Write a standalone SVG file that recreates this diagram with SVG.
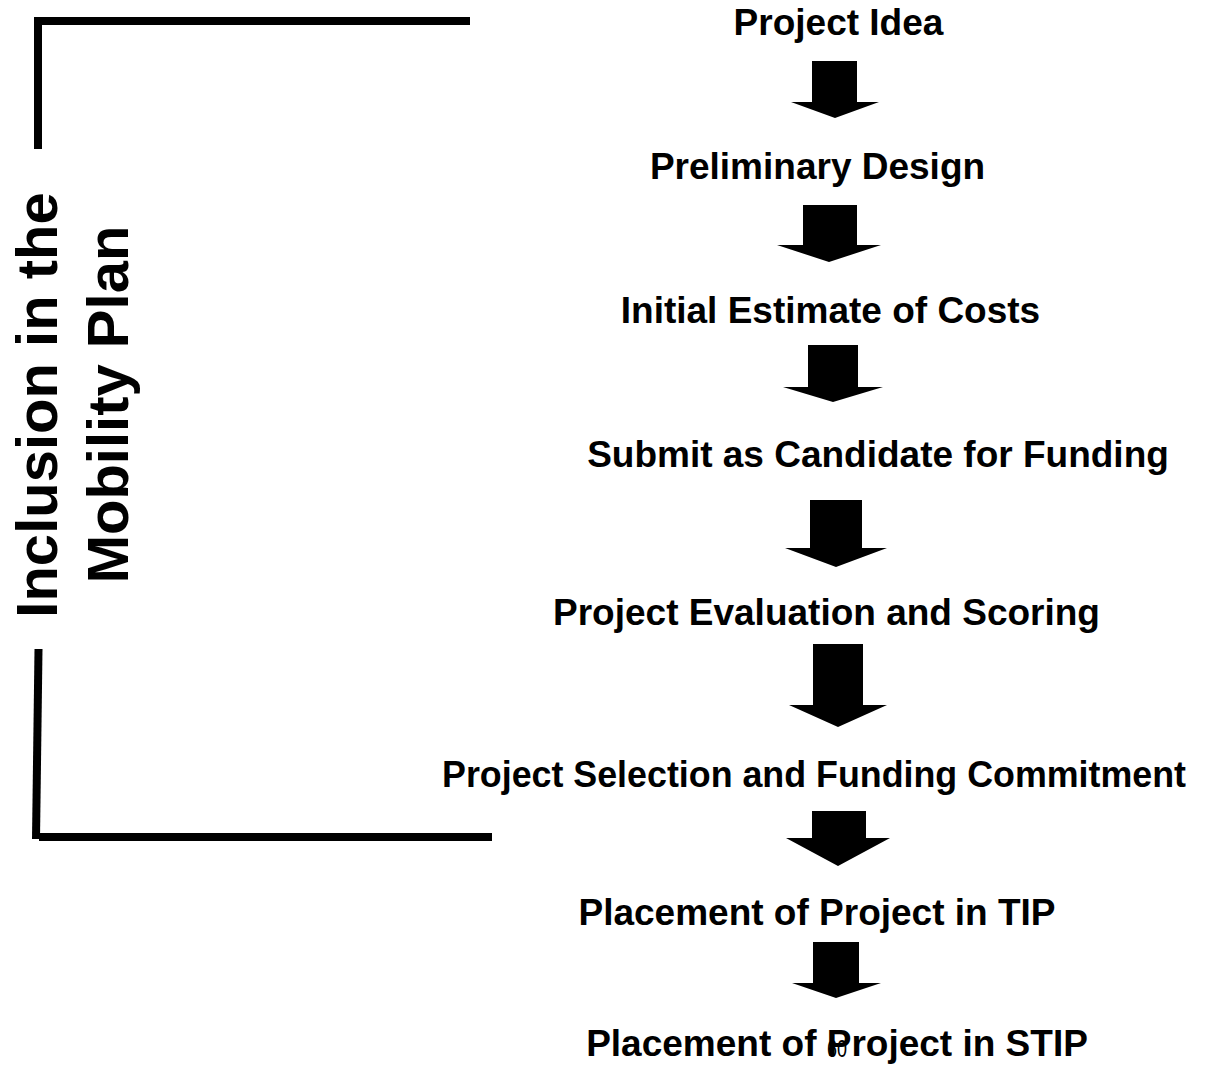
<svg xmlns="http://www.w3.org/2000/svg" width="1221" height="1065" viewBox="0 0 1221 1065">
<style>
.step{font-family:"Liberation Sans",Arial,sans-serif;font-weight:bold;font-size:37px;fill:#000;text-anchor:middle}
.side{font-family:"Liberation Sans",Arial,sans-serif;font-weight:bold;font-size:58px;fill:#000;text-anchor:middle}
.pg{font-family:"Liberation Sans",Arial,sans-serif;font-size:24px;fill:#000}
.br{stroke:#000;stroke-width:8;fill:none;stroke-linecap:butt}
.arr{fill:#000}
</style>
<rect width="1221" height="1065" fill="#fff"/>
<g id="bracket">
<line class="br" x1="38" y1="21" x2="470" y2="21"/>
<line class="br" x1="38" y1="17" x2="38" y2="149"/>
<line class="br" x1="38.5" y1="649" x2="36" y2="839"/>
<line class="br" x1="39" y1="837" x2="492" y2="837"/>
</g>
<g id="side-label">
<text class="side" transform="translate(57,405) rotate(-90)">Inclusion in the</text>
<text class="side" transform="translate(128,404.5) rotate(-90)">Mobility Plan</text>
</g>
<g id="connectors">
<polygon class="arr" points="812,61 857,61 857,102 879,102 835,118 791,102 812,102"/>
<polygon class="arr" points="803,205 857,205 857,245 881,245 829,262 777,245 803,245"/>
<polygon class="arr" points="808,345 858,345 858,387 883,387 833,402 783,387 808,387"/>
<polygon class="arr" points="810,500 862,500 862,548 887,548 836,567 785,548 810,548"/>
<polygon class="arr" points="813,644 863,644 863,705 887,705 838,727 789,705 813,705"/>
<polygon class="arr" points="812,811 866,811 866,838 890,838 838,866 786,838 812,838"/>
<polygon class="arr" points="813,942 859,942 859,983 881,983 836,998 792,983 813,983"/>
</g>
<g id="n1"><text class="step" x="838.5" y="35">Project Idea</text></g>
<g id="n2"><text class="step" x="817.5" y="179">Preliminary Design</text></g>
<g id="n3"><text class="step" x="830.5" y="323">Initial Estimate of Costs</text></g>
<g id="n4"><text class="step" x="878" y="467">Submit as Candidate for Funding</text></g>
<g id="n5"><text class="step" x="826.5" y="625">Project Evaluation and Scoring</text></g>
<g id="n6"><text class="step" x="814" y="787" textLength="744" lengthAdjust="spacingAndGlyphs">Project Selection and Funding Commitment</text></g>
<g id="n7"><text class="step" x="817" y="925">Placement of Project in TIP</text></g>
<g id="n8"><text class="step" x="837" y="1056">Placement of Project in STIP</text></g>
<g id="page"><text class="pg" x="827" y="1057" textLength="20" lengthAdjust="spacingAndGlyphs">60</text></g>
</svg>
